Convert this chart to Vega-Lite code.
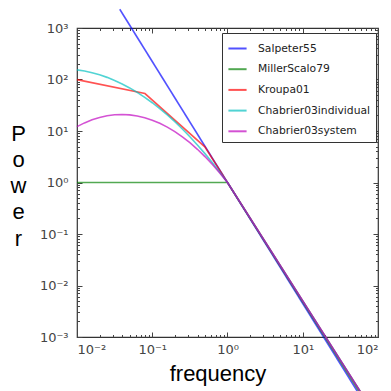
{
  "$schema": "https://vega.github.io/schema/vega-lite/v6.json",
  "autosize": {"type": "none"},
  "padding": {"left": 77, "top": 28, "right": 13, "bottom": 54},
  "width": 301,
  "height": 309,
  "config": {
    "view": {"stroke": "#333", "strokeWidth": 1.2},
    "axis": {"grid": false, "domain": false, "tickColor": "#444", "labelFont": "DejaVu Sans", "labelFontSize": 13, "labelColor": "#444"},
    "legend": {"strokeColor": "#333", "fillColor": "white", "padding": 5, "cornerRadius": 0}
  },
  "data": {"values": [
    {"m": 0.037, "v": 2317, "imf": "Salpeter55"},
    {"m": 70, "v": 0.0000461, "imf": "Salpeter55"},
    {"m": 0.01, "v": 1, "imf": "MillerScalo79"},
    {"m": 1, "v": 1, "imf": "MillerScalo79"},
    {"m": 70, "v": 0.0000525, "imf": "MillerScalo79"},
    {"m": 0.01, "v": 99.5, "imf": "Kroupa01"},
    {"m": 0.08, "v": 53.33, "imf": "Kroupa01"},
    {"m": 0.5, "v": 4.925, "imf": "Kroupa01"},
    {"m": 1, "v": 1, "imf": "Kroupa01"},
    {"m": 70, "v": 0.0000571, "imf": "Kroupa01"},
    {"m": 0.01, "v": 153.8, "imf": "Chabrier03individual"},
    {"m": 0.012589, "v": 145.9, "imf": "Chabrier03individual"},
    {"m": 0.015849, "v": 135.6, "imf": "Chabrier03individual"},
    {"m": 0.019953, "v": 123.4, "imf": "Chabrier03individual"},
    {"m": 0.025119, "v": 110.0, "imf": "Chabrier03individual"},
    {"m": 0.031623, "v": 95.98, "imf": "Chabrier03individual"},
    {"m": 0.039811, "v": 82.0, "imf": "Chabrier03individual"},
    {"m": 0.050119, "v": 68.6, "imf": "Chabrier03individual"},
    {"m": 0.063096, "v": 56.2, "imf": "Chabrier03individual"},
    {"m": 0.079433, "v": 45.1, "imf": "Chabrier03individual"},
    {"m": 0.1, "v": 35.4, "imf": "Chabrier03individual"},
    {"m": 0.12589, "v": 27.3, "imf": "Chabrier03individual"},
    {"m": 0.15849, "v": 20.5, "imf": "Chabrier03individual"},
    {"m": 0.19953, "v": 15.15, "imf": "Chabrier03individual"},
    {"m": 0.25119, "v": 10.94, "imf": "Chabrier03individual"},
    {"m": 0.31623, "v": 7.74, "imf": "Chabrier03individual"},
    {"m": 0.39811, "v": 5.36, "imf": "Chabrier03individual"},
    {"m": 0.50119, "v": 3.636, "imf": "Chabrier03individual"},
    {"m": 0.63096, "v": 2.415, "imf": "Chabrier03individual"},
    {"m": 0.79433, "v": 1.570, "imf": "Chabrier03individual"},
    {"m": 1, "v": 1, "imf": "Chabrier03individual"},
    {"m": 70, "v": 0.0000571, "imf": "Chabrier03individual"},
    {"m": 0.01, "v": 12.15, "imf": "Chabrier03system"},
    {"m": 0.012589, "v": 14.37, "imf": "Chabrier03system"},
    {"m": 0.015849, "v": 16.47, "imf": "Chabrier03system"},
    {"m": 0.019953, "v": 18.31, "imf": "Chabrier03system"},
    {"m": 0.025119, "v": 19.74, "imf": "Chabrier03system"},
    {"m": 0.031623, "v": 20.64, "imf": "Chabrier03system"},
    {"m": 0.039811, "v": 20.92, "imf": "Chabrier03system"},
    {"m": 0.050119, "v": 20.57, "imf": "Chabrier03system"},
    {"m": 0.063096, "v": 19.60, "imf": "Chabrier03system"},
    {"m": 0.079433, "v": 18.12, "imf": "Chabrier03system"},
    {"m": 0.1, "v": 16.24, "imf": "Chabrier03system"},
    {"m": 0.12589, "v": 14.11, "imf": "Chabrier03system"},
    {"m": 0.15849, "v": 11.90, "imf": "Chabrier03system"},
    {"m": 0.19953, "v": 9.723, "imf": "Chabrier03system"},
    {"m": 0.25119, "v": 7.703, "imf": "Chabrier03system"},
    {"m": 0.31623, "v": 5.922, "imf": "Chabrier03system"},
    {"m": 0.39811, "v": 4.413, "imf": "Chabrier03system"},
    {"m": 0.50119, "v": 3.188, "imf": "Chabrier03system"},
    {"m": 0.63096, "v": 2.234, "imf": "Chabrier03system"},
    {"m": 0.79433, "v": 1.518, "imf": "Chabrier03system"},
    {"m": 1, "v": 1, "imf": "Chabrier03system"},
    {"m": 70, "v": 0.0000571, "imf": "Chabrier03system"}
  ]},
  "layer": [
    {
      "mark": {"type": "line", "clip": false, "strokeWidth": 1.6, "strokeOpacity": 0.68},
      "encoding": {
        "x": {"field": "m", "type": "quantitative",
          "scale": {"type": "log", "domain": [0.01, 100], "nice": false},
          "axis": {"orient": "bottom", "values": [0.01, 0.1, 1, 10, 100], "tickSize": -5, "labelPadding": 11,
            "labelExpr": "datum.value < 0.05 ? '10⁻²' : datum.value < 0.5 ? '10⁻¹' : datum.value < 5 ? '10⁰' : datum.value < 50 ? '10¹' : '10²'",
            "title": "frequency", "titleFont": "Liberation Sans", "titleFontSize": 22, "titleFontWeight": "normal", "titleColor": "black",
            "titleX": 140.5, "titleY": 43, "titleAlign": "center", "titleBaseline": "alphabetic"}},
        "y": {"field": "v", "type": "quantitative",
          "scale": {"type": "log", "domain": [0.001, 1000], "nice": false},
          "axis": {"orient": "left", "values": [0.001, 0.01, 0.1, 1, 10, 100, 1000], "tickSize": -5, "labelPadding": 14,
            "labelExpr": "datum.value < 0.005 ? '10⁻³' : datum.value < 0.05 ? '10⁻²' : datum.value < 0.5 ? '10⁻¹' : datum.value < 5 ? '10⁰' : datum.value < 50 ? '10¹' : datum.value < 500 ? '10²' : '10³'",
            "title": ["P", "o", "w", "e", "r"], "titleFont": "Liberation Sans", "titleFontSize": 22, "titleFontWeight": "normal", "titleColor": "black",
            "titleAngle": 0, "titleX": -59, "titleY": 112, "titleAlign": "center", "titleBaseline": "alphabetic", "titleLineHeight": 26.3}},
        "color": {"field": "imf", "type": "nominal",
          "scale": {"domain": ["Salpeter55", "MillerScalo79", "Kroupa01", "Chabrier03individual", "Chabrier03system"],
                    "range": ["#0000ff", "#008000", "#ff0000", "#00bfbf", "#bf00bf"]},
          "legend": {"orient": "none", "legendX": 145, "legendY": 5, "title": null, "symbolType": "stroke", "symbolSize": 330,
            "symbolStrokeWidth": 2, "symbolOpacity": 0.68, "labelFont": "DejaVu Sans", "labelFontSize": 10.75, "labelColor": "#222",
            "labelOffset": 10, "rowPadding": 4.7}}
      }
    },
    {
      "mark": {"type": "point", "opacity": 0, "size": 0},
      "encoding": {
        "x": {"field": "m", "type": "quantitative",
          "axis": {"orient": "bottom", "values": [0.02,0.03,0.04,0.05,0.06,0.07,0.08,0.09,0.2,0.3,0.4,0.5,0.6,0.7,0.8,0.9,2,3,4,5,6,7,8,9,20,30,40,50,60,70,80,90], "tickSize": -2.5, "labels": false, "title": null}},
        "y": {"field": "v", "type": "quantitative",
          "axis": {"orient": "left", "values": [0.002,0.003,0.004,0.005,0.006,0.007,0.008,0.009,0.02,0.03,0.04,0.05,0.06,0.07,0.08,0.09,0.2,0.3,0.4,0.5,0.6,0.7,0.8,0.9,2,3,4,5,6,7,8,9,20,30,40,50,60,70,80,90,200,300,400,500,600,700,800,900], "tickSize": -2.5, "labels": false, "title": null}}
      }
    },
    {
      "mark": {"type": "point", "opacity": 0, "size": 0},
      "encoding": {
        "x": {"field": "m", "type": "quantitative",
          "axis": {"orient": "top", "values": [0.01, 0.1, 1, 10, 100], "tickSize": -5, "labels": false, "title": null}},
        "y": {"field": "v", "type": "quantitative",
          "axis": {"orient": "right", "values": [0.001, 0.01, 0.1, 1, 10, 100, 1000], "tickSize": -5, "labels": false, "title": null}}
      }
    },
    {
      "mark": {"type": "point", "opacity": 0, "size": 0},
      "encoding": {
        "x": {"field": "m", "type": "quantitative",
          "axis": {"orient": "top", "values": [0.02,0.03,0.04,0.05,0.06,0.07,0.08,0.09,0.2,0.3,0.4,0.5,0.6,0.7,0.8,0.9,2,3,4,5,6,7,8,9,20,30,40,50,60,70,80,90], "tickSize": -2.5, "labels": false, "title": null}},
        "y": {"field": "v", "type": "quantitative",
          "axis": {"orient": "right", "values": [0.002,0.003,0.004,0.005,0.006,0.007,0.008,0.009,0.02,0.03,0.04,0.05,0.06,0.07,0.08,0.09,0.2,0.3,0.4,0.5,0.6,0.7,0.8,0.9,2,3,4,5,6,7,8,9,20,30,40,50,60,70,80,90,200,300,400,500,600,700,800,900], "tickSize": -2.5, "labels": false, "title": null}}
      }
    }
  ],
  "resolve": {"axis": {"x": "independent", "y": "independent"}}
}
